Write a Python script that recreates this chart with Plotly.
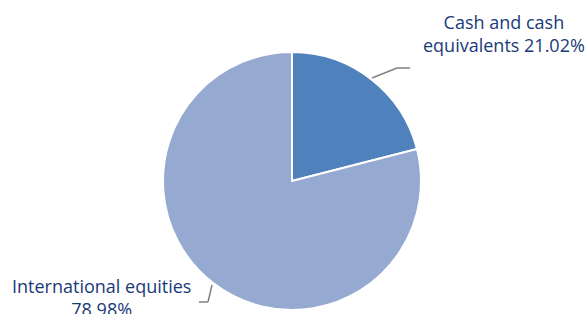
import plotly.graph_objects as go

labels = ["Cash and cash equivalents", "International equities"]
values = [21.02, 78.98]
colors = ["#4F81BD", "#95A9D1"]

W, H = 585, 314
OFF = 0  # body margin removed via post_script

def px(x, y):
    return (x - OFF) / W, 1 - (y - OFF) / H

x0, y0 = px(163, 52)
x1, y1 = px(421, 310)
fig = go.Figure(go.Pie(
    labels=labels, values=values, sort=False, direction="clockwise", rotation=0,
    marker=dict(colors=colors, line=dict(color="white", width=2)),
    textinfo="none", hoverinfo="label+percent", showlegend=False,
    domain=dict(x=[x0, x1], y=[y1, y0]),
))

font = dict(family="Open Sans, Noto Sans, sans-serif", size=18, color="#1A3A78")

# leader lines (paper coordinates)
for pts in [[(372, 78), (397, 68), (410, 68)], [(212, 285), (208, 302), (199, 302)]]:
    for (a0, b0), (a1, b1) in zip(pts[:-1], pts[1:]):
        a, b = px(a0, b0)
        c, d = px(a1, b1)
        fig.add_shape(type="line", xref="paper", yref="paper", x0=a, y0=b, x1=c, y1=d,
                      line=dict(color="#808080", width=1.5))

t1 = f"Cash and cash<br>equivalents {values[0]:.2f}%"
t2 = f"International equities<br>{values[1]:.2f}%"
x, y = px(503.5, 34)
fig.add_annotation(text=t1, x=x, y=y, xref="paper", yref="paper", showarrow=False,
                   font=font, align="center", xanchor="center", yanchor="middle")
x, y = px(101, 297)
fig.add_annotation(text=t2, x=x, y=y, xref="paper", yref="paper", showarrow=False,
                   font=font, align="center", xanchor="center", yanchor="middle")

fig.update_layout(width=W, height=H, margin=dict(l=0, r=0, t=0, b=0),
                  paper_bgcolor="white", plot_bgcolor="white")
fig.write_html("out.html", config={"displayModeBar": False},
               post_script="document.body.style.margin='0';document.body.style.overflow='hidden';")
